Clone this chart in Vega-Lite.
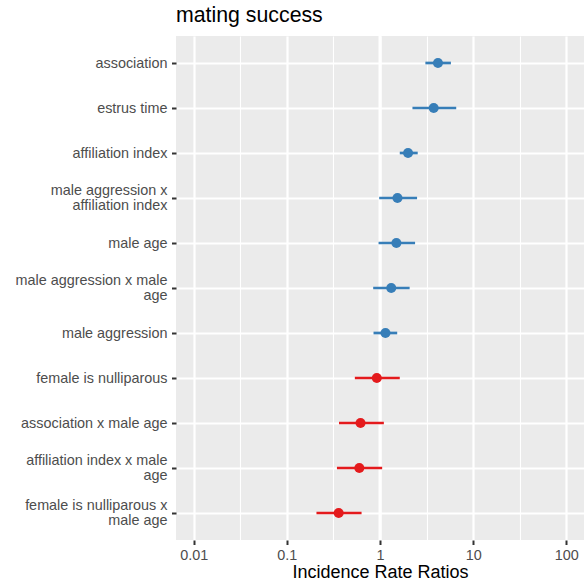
{
  "$schema": "https://vega.github.io/schema/vega-lite/v6.json",
  "autosize": {"type": "none"},
  "padding": {"left": 176, "top": 36, "right": 0, "bottom": 46},
  "width": 408,
  "height": 504,
  "background": "white",
  "title": {"text": "mating success", "anchor": "start", "frame": "group", "font": "Liberation Sans", "fontSize": 21.3, "fontWeight": "normal", "color": "black", "offset": 8.5},
  "config": {
    "view": {"stroke": null, "fill": "#EBEBEB"},
    "font": "Liberation Sans"
  },
  "data": {"values": [
    {"term": "association", "est": 4.19, "lo": 3.07, "hi": 5.77, "dir": "pos"},
    {"term": "estrus time", "est": 3.77, "lo": 2.23, "hi": 6.58, "dir": "pos"},
    {"term": "affiliation index", "est": 2.0, "lo": 1.63, "hi": 2.54, "dir": "pos"},
    {"term": "male aggression x affiliation index", "est": 1.54, "lo": 0.98, "hi": 2.5, "dir": "pos"},
    {"term": "male age", "est": 1.5, "lo": 0.965, "hi": 2.38, "dir": "pos"},
    {"term": "male aggression x male age", "est": 1.32, "lo": 0.845, "hi": 2.08, "dir": "pos"},
    {"term": "male aggression", "est": 1.145, "lo": 0.852, "hi": 1.53, "dir": "pos"},
    {"term": "female is nulliparous", "est": 0.924, "lo": 0.537, "hi": 1.63, "dir": "neg"},
    {"term": "association x male age", "est": 0.618, "lo": 0.363, "hi": 1.1, "dir": "neg"},
    {"term": "affiliation index x male age", "est": 0.6, "lo": 0.345, "hi": 1.055, "dir": "neg"},
    {"term": "female is nulliparous x male age", "est": 0.36, "lo": 0.208, "hi": 0.634, "dir": "neg"}
  ]},
  "layer": [
    {
      "data": {"values": [{"ref": 1}]},
      "mark": {"type": "rule", "color": "white", "strokeWidth": 3},
      "encoding": {
        "x": {"field": "ref", "type": "quantitative", "title": "Incidence Rate Ratios",
          "scale": {"type": "log", "domain": [0.00646, 154.8], "nice": false, "zero": false},
          "axis": {
            "values": [0.01, 0.0316228, 0.1, 0.316228, 1, 3.16228, 10, 31.6228, 100],
            "format": "~g",
            "labelExpr": "abs(log(datum.value)/LN10 - round(log(datum.value)/LN10)) < 0.01 ? datum.label : ''",
            "grid": true, "gridColor": "white",
            "gridWidth": {"condition": {"test": "abs(log(datum.value)/LN10 - round(log(datum.value)/LN10)) < 0.01", "value": 2.2}, "value": 1.1},
            "tickOpacity": {"condition": {"test": "abs(log(datum.value)/LN10 - round(log(datum.value)/LN10)) < 0.01", "value": 1}, "value": 0},
            "domain": false, "tickColor": "#333333", "tickSize": 4.5, "tickWidth": 2,
            "labelFont": "Liberation Sans", "labelFontSize": 14.4, "labelColor": "#4D4D4D", "labelPadding": 3.5,
            "labelOverlap": false, "labelFlush": false,
            "titleFont": "Liberation Sans", "titleFontSize": 18, "titleFontWeight": "normal", "titleColor": "black", "titlePadding": 2
          }
        }
      }
    },
    {
      "mark": {"type": "rule", "strokeWidth": 2.7, "strokeCap": "butt"},
      "encoding": {
        "y": {"field": "term", "type": "nominal", "sort": null, "scale": {"type": "point", "padding": 0.6},
          "axis": {
            "title": null, "grid": true, "gridColor": "white", "gridWidth": 2.2, "domain": false,
            "tickColor": "#333333", "tickSize": 4.5, "tickWidth": 2,
            "labelFont": "Liberation Sans", "labelFontSize": 14.4, "labelColor": "#4D4D4D", "labelPadding": 4.5, "labelLineHeight": 14.3, "labelLimit": 0,
            "labelOffset": {"condition": {"test": "indexof(['male aggression x affiliation index', 'male aggression x male age', 'affiliation index x male age', 'female is nulliparous x male age'], datum.value) >= 0", "value": -7.15}, "value": 0},
            "labelExpr": "datum.value == 'male aggression x affiliation index' ? ['male aggression x', 'affiliation index'] : datum.value == 'male aggression x male age' ? ['male aggression x male', 'age'] : datum.value == 'affiliation index x male age' ? ['affiliation index x male', 'age'] : datum.value == 'female is nulliparous x male age' ? ['female is nulliparous x', 'male age'] : datum.label"
          }
        },
        "x": {"field": "lo", "type": "quantitative", "title": "Incidence Rate Ratios"},
        "x2": {"field": "hi"},
        "color": {"field": "dir", "type": "nominal", "scale": {"domain": ["pos", "neg"], "range": ["#377EB8", "#E41A1C"]}, "legend": null}
      }
    },
    {
      "mark": {"type": "circle", "size": 100, "opacity": 1},
      "encoding": {
        "y": {"field": "term", "type": "nominal", "sort": null},
        "x": {"field": "est", "type": "quantitative", "title": "Incidence Rate Ratios"},
        "color": {"field": "dir", "type": "nominal", "legend": null}
      }
    }
  ]
}
